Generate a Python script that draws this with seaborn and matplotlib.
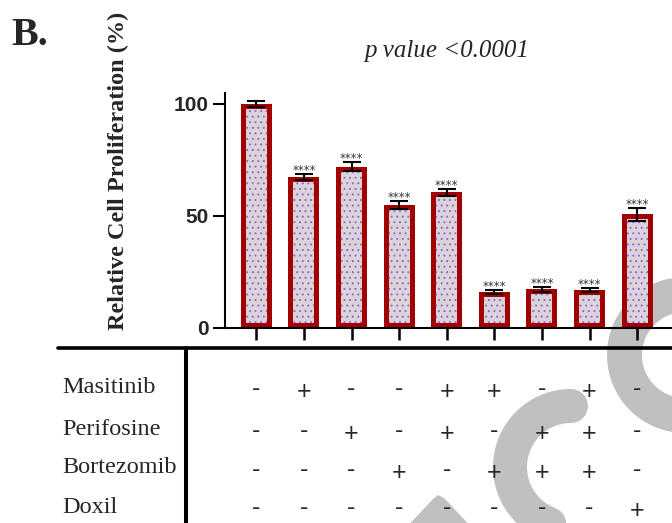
# -*- coding: utf-8 -*-

# %% imports
import numpy as np
import pandas as pd
import matplotlib.pyplot as plt
import matplotlib.transforms as mtrans
import seaborn as sns

# %% values
treatments = ['Control', 'Masitinib', 'Perifosine', 'Bortezomib', 'Mas+Per',
              'Mas+Bor', 'Per+Bor', 'Mas+Per+Bor', 'Doxil']
prolif = [100, 67.2, 71.9, 54.8, 60.5, 15.9, 17.1, 16.6, 50.6]
prolif_err = [1.5, 1.3, 2.0, 1.7, 1.6, 0.8, 1.0, 0.9, 2.8]
signif = ['', '****', '****', '****', '****', '****', '****', '****', '****']
yticks = [0, 50, 100]

drugs = ['Masitinib', 'Perifosine', 'Bortezomib', 'Doxil']
masitinib = ['-', '+', '-', '-', '+', '+', '-', '+', '-']
perifosine = ['-', '-', '+', '-', '+', '-', '+', '+', '-']
bortezomib = ['-', '-', '-', '+', '-', '+', '+', '+', '-']
doxil = ['-', '-', '-', '-', '-', '-', '-', '-', '+']
design = [masitinib, perifosine, bortezomib, doxil]

# %% style
sns.set_style('ticks')
plt.rcParams['font.family'] = ['Liberation Sans', 'DejaVu Sans']
plt.rcParams['hatch.color'] = '#b84fe8'
plt.rcParams['hatch.linewidth'] = 0.7
serif = ['Liberation Serif', 'DejaVu Serif']
red = '#a30000'
wm = '#c0c0c0'

W, H = 672, 523
fig = plt.figure(figsize=(W / 100, H / 100), dpi=100)

# background axes in pixel units (watermark, table frame, labels)
bg = fig.add_axes([0, 0, 1, 1], zorder=0)
bg.set_xlim(0, W)
bg.set_ylim(H, 0)
bg.axis('off')

t = np.linspace(0, 2 * np.pi, 300)
bg.plot(685 + 60.5 * np.cos(t), 355 - 60.5 * np.sin(t), color=wm, lw=25.2)
t2 = np.linspace(np.pi / 2, 1.5 * np.pi, 150)
bg.plot(np.r_[571 + 61 * np.cos(t2), 720], np.r_[467 - 61 * np.sin(t2), 528],
        color=wm, lw=24.5, solid_capstyle='round', solid_joinstyle='round')
bg.fill([402, 433, 438, 444, 476], [532, 499, 495, 498, 532], color=wm, lw=0)

# %% bar chart
ax = fig.add_axes([225 / W, (H - 327.5) / H, 475 / W, 234.7 / H], zorder=1)
ax.patch.set_alpha(0)

df = pd.DataFrame({'treatment': treatments, 'prolif': prolif})
sns.barplot(data=df, x='treatment', y='prolif', ax=ax, width=0.65,
            facecolor='#d6d6d6', edgecolor='#b84fe8', linewidth=0,
            hatch='...', errorbar=None)
sns.barplot(data=df, x='treatment', y='prolif', ax=ax, width=0.65,
            facecolor='none', edgecolor=red, linewidth=7.2, errorbar=None)
for p in ax.patches[len(treatments):]:
    p.set_clip_path(p)  # keep the border inside the bar

xpos = np.arange(len(treatments))
ax.errorbar(xpos, prolif, yerr=prolif_err, fmt='none', ecolor='black',
            elinewidth=1.5, capsize=6.5, capthick=1.5, zorder=3)
for i, (m, e, s) in enumerate(zip(prolif, prolif_err, signif)):
    ax.text(i, m + e, s, ha='center', va='baseline', fontsize=8.5,
            family='DejaVu Sans', color='#333333', zorder=4)

ax.set_xlim(-0.658, 9.32)
ax.set_ylim(0, 105)
ax.set_yticks(yticks)
ax.set_yticklabels([str(v) for v in yticks], fontweight='bold', fontsize=15)
ax.set_xticks(xpos)
ax.set_xticklabels([])
ax.set_xlabel('')
ax.set_ylabel('')
ax.tick_params(axis='y', length=8.5, width=1.5, pad=3.4, color='black')
ax.tick_params(axis='x', length=8.6, width=1.8, color='black')
sns.despine(ax=ax)
for side in ['left', 'bottom']:
    ax.spines[side].set_linewidth(1.5)
    ax.spines[side].set_color('black')

# %% texts
bg.text(11, 45, 'B.', family=serif, fontweight='bold', fontsize=29, va='baseline')
bg.text(364, 57, 'p value <0.0001', family=serif, style='italic', fontsize=18,
        va='baseline')
bg.text(118, 171, 'Relative Cell Proliferation (%)', family=serif,
        fontweight='bold', fontsize=17.5, rotation=90, ha='center', va='center')

# %% treatment table
bg.plot([58, 680], [348, 348], color='black', lw=2.6)
bg.plot([186, 186], [348, 530], color='black', lw=2.9)

label_y = [393, 435, 473, 513]
sign_y = [392, 434, 473, 511]
for name, y in zip(drugs, label_y):
    bg.text(62, y, name, family=serif, fontsize=17.5, va='baseline', ha='left')

trans = mtrans.blended_transform_factory(ax.transData, bg.transData)
for row, y in zip(design, sign_y):
    for i, s in enumerate(row):
        yy = y if s == '+' else y - 3
        fig.text(i, yy, s, transform=trans, fontsize=18, ha='center', va='center')

fig.savefig('out.png', dpi=100)
